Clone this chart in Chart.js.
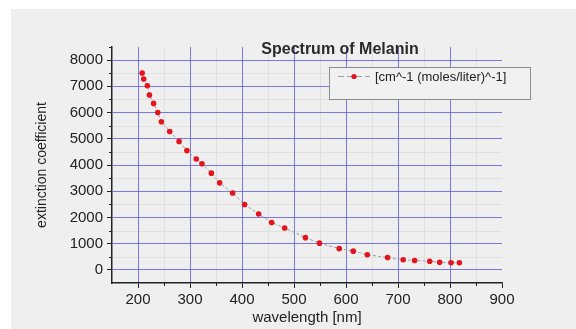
<!DOCTYPE html>
<html>
<head>
<meta charset="utf-8">
<script src="https://cdn.jsdelivr.net/npm/chart.js@4"></script>
<style>
  body { margin: 0; background: #fff; }
  #wrap { width: 576px; height: 329px; }
</style>
</head>
<body>
<div id="wrap"><canvas id="spectrum" width="576" height="329"></canvas></div>
<script>
// data
const wavelength = [208, 211, 218, 222, 230, 238, 245, 261, 279, 294, 312, 323, 341, 357, 382, 405,
                    432, 457, 482, 522, 549, 587, 614, 641, 680, 710, 732, 761, 780, 802, 818];
const extinction = [7510, 7280, 7020, 6670, 6350, 6000, 5650, 5280, 4900, 4550, 4230, 4050, 3690, 3320, 2930, 2490,
                    2130, 1810, 1600, 1230, 1020, 810, 715, 580, 470, 385, 360, 330, 290, 270, 270];
const xTicks = [200, 300, 400, 500, 600, 700, 800, 900];
const yTicks = [0, 1000, 2000, 3000, 4000, 5000, 6000, 7000, 8000];
const seriesName = '[cm^-1 (moles/liter)^-1]';
const chartTitle = 'Spectrum of Melanin';

const FONT = "'Liberation Sans', Arial, sans-serif";
const GRID_BLUE = 'rgba(100,100,225,0.85)';

//background, minor grid, minor ticks, title and legend
const decor = {
    id: 'decor',
    beforeDraw(chart) {
        const {ctx, chartArea: a, scales: {x, y}} = chart;
        ctx.save();
        ctx.fillStyle = '#ffffff';
        ctx.fillRect(0, 0, chart.width, chart.height);
        ctx.fillStyle = '#efefef';
        ctx.fillRect(11, 9, chart.width - 11, chart.height - 9);
        // faint minor grid
        ctx.strokeStyle = '#e0e0e0';
        ctx.lineWidth = 1;
        ctx.beginPath();
        for (let v = 250; v < 900; v += 100) {
            const px = Math.round(x.getPixelForValue(v)) + 0.5;
            ctx.moveTo(px, a.top); ctx.lineTo(px, a.bottom);
        }
        for (let v = 500; v < 8500; v += 1000) {
            const py = Math.round(y.getPixelForValue(v)) + 0.5;
            ctx.moveTo(a.left, py); ctx.lineTo(a.right, py);
        }
        ctx.stroke();
        ctx.restore();
    },
    afterDraw(chart) {
        const {ctx, chartArea: a, scales: {x, y}} = chart;
        ctx.save();
        // minor ticks
        ctx.strokeStyle = '#222';
        ctx.lineWidth = 1;
        ctx.beginPath();
        for (let v = 250; v < 900; v += 100) {
            const px = Math.round(x.getPixelForValue(v)) + 0.5;
            ctx.moveTo(px, a.bottom); ctx.lineTo(px, a.bottom + 3);
        }
        for (let v = 500; v <= 8500; v += 1000) {
            const py = Math.round(y.getPixelForValue(v)) + 0.5;
            ctx.moveTo(a.left, py); ctx.lineTo(a.left - 3, py);
        }
        ctx.stroke();

        // title
        ctx.fillStyle = '#2a2a2a';
        ctx.font = 'bold 16px ' + FONT;
        ctx.textAlign = 'center';
        ctx.textBaseline = 'middle';
        ctx.fillText(chartTitle, 340, 50);

        // legend box
        ctx.fillStyle = '#f1f1f1';
        ctx.fillRect(329.5, 67.5, 201, 32);
        ctx.strokeStyle = '#8c8c8c';
        ctx.lineWidth = 1;
        ctx.strokeRect(329.5, 67.5, 201, 32);
        ctx.strokeStyle = '#9aa0a0';
        ctx.setLineDash([6, 3]);
        ctx.beginPath();
        ctx.moveTo(338, 76.5); ctx.lineTo(370, 76.5);
        ctx.stroke();
        ctx.setLineDash([]);
        ctx.fillStyle = '#e3141c';
        ctx.beginPath();
        ctx.arc(354, 76.5, 2.6, 0, Math.PI * 2);
        ctx.fill();
        ctx.fillStyle = '#222';
        ctx.font = '13px ' + FONT;
        ctx.textAlign = 'left';
        ctx.fillText(seriesName, 375, 77);
        ctx.restore();
    }
};

//setup
const data = {
    datasets: [{
        label: seriesName,
        data: wavelength.map((w, i) => ({x: w, y: extinction[i]})),
        showLine: true,
        borderColor: '#97a0a0',
        borderWidth: 1,
        borderDash: [3, 2],
        pointRadius: 2.8,
        pointBackgroundColor: '#e3141c',
        pointBorderWidth: 0,
        tension: 0
    }]
};

//options
const options = {
    responsive: false,
    animation: false,
    layout: { padding: { left: 0, top: 47, right: 74, bottom: 0 } },
    plugins: {
        legend: { display: false },
        title: { display: false },
        tooltip: { enabled: false }
    },
    scales: {
        x: {
            type: 'linear',
            min: 150,
            max: 900,
            afterBuildTicks: s => { s.ticks = xTicks.map(v => ({value: v})); },
            afterFit: s => { s.height = 46; },
            grid: {
                color: c => c.tick && c.tick.value === 900 ? 'rgba(0,0,0,0)' : GRID_BLUE,
                tickColor: '#222',
                tickLength: 5,
                lineWidth: 1
            },
            border: { color: '#222', width: 1.5 },
            ticks: { color: '#222', font: { family: FONT, size: 15 }, padding: 3, callback: v => String(v) },
            title: {
                display: true,
                text: 'wavelength [nm]',
                color: '#222',
                font: { family: FONT, size: 15 },
                padding: { top: 0, bottom: 2 }
            }
        },
        y: {
            type: 'linear',
            min: -500,
            max: 8500,
            afterBuildTicks: s => { s.ticks = yTicks.map(v => ({value: v})); },
            afterFit: s => { s.width = 112; },
            grid: {
                color: GRID_BLUE,
                tickColor: '#222',
                tickLength: 5,
                lineWidth: 1
            },
            border: { color: '#222', width: 1.5 },
            ticks: { color: '#222', font: { family: FONT, size: 15 }, padding: 4, callback: v => String(v) },
            title: {
                display: true,
                text: 'extinction coefficient',
                color: '#222',
                font: { family: FONT, size: 14 },
                padding: { top: 34, bottom: 0 }
            }
        }
    }
};

//config
const config = {
    type: 'scatter',
    data: data,
    options,
    plugins: [decor]
};

//render init
const spectrum = new Chart(
    document.getElementById('spectrum'),
    config
);
</script>
</body>
</html>
